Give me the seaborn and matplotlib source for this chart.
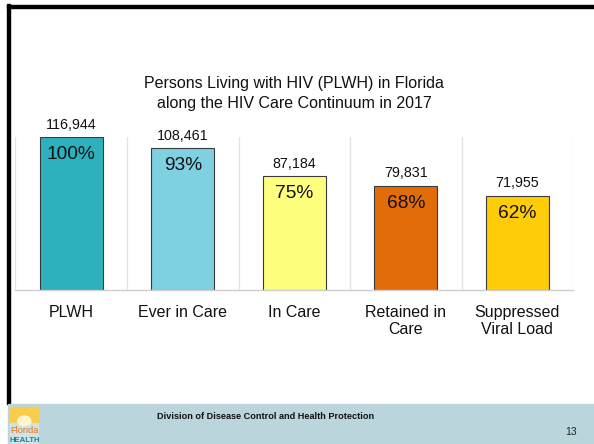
import numpy as np
import pandas as pd
import matplotlib
matplotlib.use("Agg")
import matplotlib.pyplot as plt
import seaborn as sns
from matplotlib.patches import Rectangle, Circle

# chart data
stages = ["PLWH", "Ever in Care", "In Care", "Retained in\nCare", "Suppressed\nViral Load"]
persons = [116944, 108461, 87184, 79831, 71955]
percents = ["100%", "93%", "75%", "68%", "62%"]
bar_colors = ["#2cb1bd", "#7fd0e1", "#ffff7f", "#e36c0a", "#ffcc09"]

sns.set_style("white")
plt.rcParams["font.family"] = ["Liberation Sans", "DejaVu Sans"]

df = pd.DataFrame({"stage": stages, "persons": persons})

fig = plt.figure(figsize=(5.94, 4.44), dpi=100)
ax = fig.add_axes([0.026, 0.347, 0.939, 0.344])

sns.barplot(data=df, x="stage", y="persons", hue="stage", palette=bar_colors,
            legend=False, width=0.565, edgecolor="#3a3a3a", linewidth=0.8,
            saturation=1, ax=ax)
ax.set_ylim(0, max(persons))
ax.set_xlim(-0.5, len(stages) - 0.5)

for i, (v, p) in enumerate(zip(persons, percents)):
    ax.annotate(f"{v:,}", (i, v), xytext=(0, 4), textcoords="offset points",
                ha="center", va="bottom", fontsize=10.3, color="#111111",
                annotation_clip=False)
    ax.annotate(p, (i, v), xytext=(0, -6.5), textcoords="offset points",
                ha="center", va="top", fontsize=13.8, color="#111111",
                annotation_clip=False)

# vertical gridlines between categories
ax.set_xticks(np.arange(-0.5, len(stages)), minor=True)
ax.grid(axis="x", which="minor", color="#e3e3e3", linewidth=0.9)
ax.set_axisbelow(True)
ax.tick_params(axis="x", which="both", length=0, labelsize=11.5, pad=10.5,
               labelcolor="#111111")
ax.set_yticks([])
ax.set_xlabel("")
ax.set_ylabel("")
for s in ["top", "left", "right"]:
    ax.spines[s].set_visible(False)
ax.spines["bottom"].set_color("#cfcfcf")
ax.spines["bottom"].set_linewidth(1.0)

fig.text(0.495, 0.79, "Persons Living with HIV (PLWH) in Florida\nalong the HIV Care Continuum in 2017",
         ha="center", va="center", fontsize=11.5, color="#111111", linespacing=1.42)

# slide frame
fig.add_artist(Rectangle((0.012, 0.09), 0.004, 0.9, transform=fig.transFigure,
                         color="black", zorder=0))
fig.add_artist(Rectangle((0.012, 0.983), 0.988, 0.006, transform=fig.transFigure,
                         color="black", zorder=0))

# footer band
fig.add_artist(Rectangle((0.0135, 0.0), 0.9865, 0.09, transform=fig.transFigure,
                         color="#bad5dc", zorder=0))
fig.text(0.447, 0.062, "Division of Disease Control and Health Protection",
         ha="center", va="center", fontsize=6.6, fontweight="bold", color="#111111")
fig.text(0.961, 0.026, "13", ha="center", va="center", fontsize=7.5, color="#222222")

# simple logo
fig.add_artist(Rectangle((0.017, 0.048), 0.047, 0.035, transform=fig.transFigure,
                         color="#f9cd4a", zorder=1))
fig.add_artist(Rectangle((0.017, 0.0), 0.047, 0.048, transform=fig.transFigure,
                         color="#cfe3e6", zorder=1))
fig.add_artist(Circle((0.041, 0.052), 0.011, transform=fig.transFigure,
                      color="#fff6cf", zorder=2))
fig.text(0.041, 0.030, "Florida", ha="center", va="center", fontsize=6.6,
         color="#e8731c", zorder=3)
fig.text(0.041, 0.009, "HEALTH", ha="center", va="center", fontsize=5.6,
         fontweight="bold", color="#17869a", zorder=3)

fig.savefig("out.png", dpi=100)
